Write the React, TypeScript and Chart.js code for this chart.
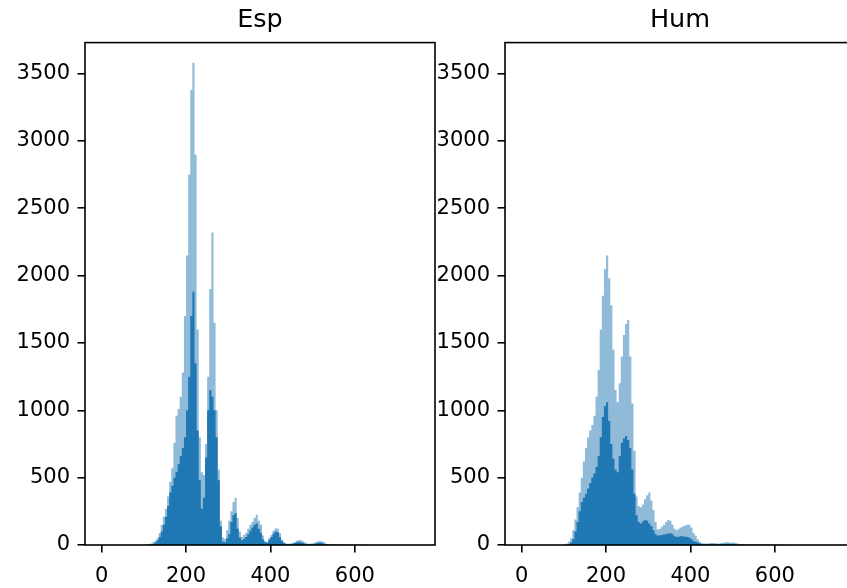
import React, { useEffect, useRef } from "react";
import { Chart, registerables } from "chart.js";

Chart.register(...registerables);

// Histogram bins: left edge of first bin and bin width (data units)
const BIN_START = 100;
const BIN_WIDTH = 5;

// Esp: all samples (light) and subset (dark), counts per bin
const espAll = [
  3, 5, 8, 12, 20, 30, 50, 90, 150, 210,
  270, 360, 470, 570, 760, 960, 1010, 1100, 1280, 1700,
  2150, 2750, 3380, 3580, 2900, 1600, 800, 540, 520, 750,
  1250, 1900, 2320, 1650, 1000, 560, 180, 55, 45, 110,
  180, 250, 320, 350, 200, 100, 60, 75, 90, 120,
  150, 170, 200, 225, 180, 150, 70, 30, 20, 50,
  75, 105, 125, 120, 90, 40, 20, 12, 10, 12,
  15, 20, 32, 38, 35, 28, 18, 12, 10, 12,
  15, 22, 28, 30, 28, 20, 10, 6, 5, 4,
  4, 3, 3, 4, 3, 2, 2, 3, 2, 2,
  2, 1, 1, 2, 1, 1, 1, 0, 1, 0,
];
const espSub = [
  0, 0, 2, 4, 8, 18, 35, 60, 100, 150,
  210, 290, 390, 440, 500, 540, 600, 660, 720, 800,
  1000, 1250, 1700, 1880, 1350, 850, 480, 270, 350, 650,
  1000, 1150, 1100, 1000, 800, 480, 140, 25, 20, 50,
  80, 170, 220, 235, 120, 55, 35, 45, 60, 80,
  105, 130, 150, 160, 120, 90, 40, 20, 18, 40,
  60, 85, 100, 95, 60, 30, 14, 8, 6, 8,
  10, 14, 20, 22, 20, 15, 10, 6, 5, 6,
  8, 12, 15, 16, 14, 10, 5, 3, 2, 2,
  2, 1, 1, 2, 1, 1, 1, 1, 1, 0,
  1, 0, 0, 1, 0, 0, 0, 0, 0, 0,
];

// Hum: all samples (light) and subset (dark), counts per bin
const humAll = [
  5, 12, 25, 50, 110, 190, 280, 390, 500, 620,
  720, 800, 850, 890, 960, 1100, 1300, 1600, 1850, 2050,
  2150, 1980, 1780, 1450, 1150, 1060, 1200, 1400, 1560, 1640,
  1670, 1400, 1050, 700, 360, 290, 280, 300, 340, 370,
  390, 330, 260, 170, 115, 120, 135, 150, 170, 185,
  180, 150, 120, 110, 120, 130, 140, 145, 150, 150,
  130, 90, 70, 40, 25, 15, 12, 12, 12, 14,
  15, 14, 12, 12, 14, 16, 18, 20, 18, 16,
  18, 15, 12, 8, 6, 5, 4, 4, 3, 3,
  3, 3, 4, 5, 4, 3, 3, 2, 2, 2,
  2, 2, 1, 1, 1, 1, 1, 0, 1, 0,
];
const humSub = [
  0, 3, 8, 20, 45, 100, 170, 250, 320, 350,
  380, 420, 460, 500, 530, 580, 660, 800, 950, 1030,
  1060, 920, 750, 640, 560, 540, 660, 760, 790, 810,
  780, 720, 560, 380, 220, 170, 160, 175, 185, 180,
  160, 140, 110, 80, 70, 72, 75, 78, 80, 85,
  88, 80, 65, 60, 62, 65, 65, 62, 60, 55,
  45, 30, 25, 18, 12, 8, 6, 6, 6, 7,
  8, 7, 6, 6, 7, 8, 9, 10, 9, 8,
  9, 7, 6, 4, 3, 2, 2, 2, 1, 1,
  1, 1, 2, 2, 2, 1, 1, 1, 1, 1,
  1, 1, 0, 0, 0, 0, 0, 0, 0, 0,
];

const xTicks = [0, 200, 400, 600];
const yTicks = [0, 500, 1000, 1500, 2000, 2500, 3000, 3500];
const X_MIN = -39.5;
const X_MAX = 790;
const Y_MAX = 3730;

const FONT = "'DejaVu Sans', sans-serif";
const LIGHT = "rgba(31,119,180,0.5)";
const DARK = "rgb(31,119,180)";

function toPoints(counts: number[]) {
  const pts: { x: number; y: number }[] = [{ x: BIN_START - BIN_WIDTH / 2, y: 0 }];
  counts.forEach((c, i) => pts.push({ x: BIN_START + BIN_WIDTH * (i + 0.5), y: c }));
  pts.push({ x: BIN_START + BIN_WIDTH * (counts.length + 0.5), y: 0 });
  return pts;
}

const spines = {
  id: "spines",
  afterDatasetsDraw(chart: any) {
    const { ctx, chartArea: a } = chart;
    ctx.save();
    ctx.strokeStyle = "#000";
    ctx.lineWidth = 1.6;
    ctx.strokeRect(a.left, a.top, a.right - a.left, a.bottom - a.top);
    ctx.restore();
  },
};

function HistPanel({ title, all, sub, left }: { title: string; all: number[]; sub: number[]; left: number }) {
  const ref = useRef<HTMLCanvasElement | null>(null);
  useEffect(() => {
    if (!ref.current) return;
    const tickFont = { family: FONT, size: 21 };
    const chart = new Chart(ref.current, {
      type: "line",
      data: {
        datasets: [
          {
            label: "subset",
            data: toPoints(sub),
            stepped: "middle",
            fill: "origin",
            backgroundColor: DARK,
            borderColor: "rgba(0,0,0,0)",
            borderWidth: 0,
            pointRadius: 0,
            order: 0,
          },
          {
            label: "all",
            data: toPoints(all),
            stepped: "middle",
            fill: "origin",
            backgroundColor: LIGHT,
            borderColor: "rgba(0,0,0,0)",
            borderWidth: 0,
            pointRadius: 0,
            order: 1,
          },
        ],
      } as any,
      options: {
        responsive: false,
        animation: false,
        devicePixelRatio: 1,
        parsing: false,
        layout: { padding: { left: 0, right: 10, top: 0, bottom: 0 } },
        plugins: {
          legend: { display: false },
          tooltip: { enabled: false },
          title: {
            display: true,
            text: title,
            fullSize: false,
            color: "#000",
            font: { family: FONT, size: 25.5, weight: "normal" as any },
            padding: { top: 5, bottom: 7 },
          },
        },
        scales: {
          x: {
            type: "linear",
            min: X_MIN,
            max: X_MAX,
            afterBuildTicks: (s: any) => {
              s.ticks = xTicks.map((v) => ({ value: v }));
            },
            afterFit: (s: any) => {
              s.height = 43;
            },
            grid: { drawOnChartArea: false, drawTicks: true, tickLength: 7.5, color: "#000", lineWidth: 1.6 },
            border: { display: false },
            ticks: {
              padding: 11,
              color: "#000",
              font: tickFont,
              maxRotation: 0,
              autoSkip: false,
              callback: (v: any) => String(v),
            },
          },
          y: {
            type: "linear",
            min: 0,
            max: Y_MAX,
            afterBuildTicks: (s: any) => {
              s.ticks = yTicks.map((v) => ({ value: v }));
            },
            afterFit: (s: any) => {
              s.width = 85;
            },
            grid: { drawOnChartArea: false, drawTicks: true, tickLength: 7.5, color: "#000", lineWidth: 1.6 },
            border: { display: false },
            ticks: {
              padding: 7.5,
              color: "#000",
              font: tickFont,
              autoSkip: false,
              callback: (v: any) => String(v),
            },
          },
        },
      } as any,
      plugins: [spines],
    });
    return () => chart.destroy();
  }, [title, all, sub]);
  return (
    <canvas
      ref={ref}
      width={445}
      height={588}
      style={{ position: "absolute", left, top: 0, width: 445, height: 588 }}
    />
  );
}

export default function App() {
  return (
    <div
      style={{
        position: "fixed",
        left: 0,
        top: 0,
        width: 847,
        height: 588,
        overflow: "hidden",
        background: "#fff",
      }}
    >
      <HistPanel title="Esp" all={espAll} sub={espSub} left={0} />
      <HistPanel title="Hum" all={humAll} sub={humSub} left={420} />
    </div>
  );
}
